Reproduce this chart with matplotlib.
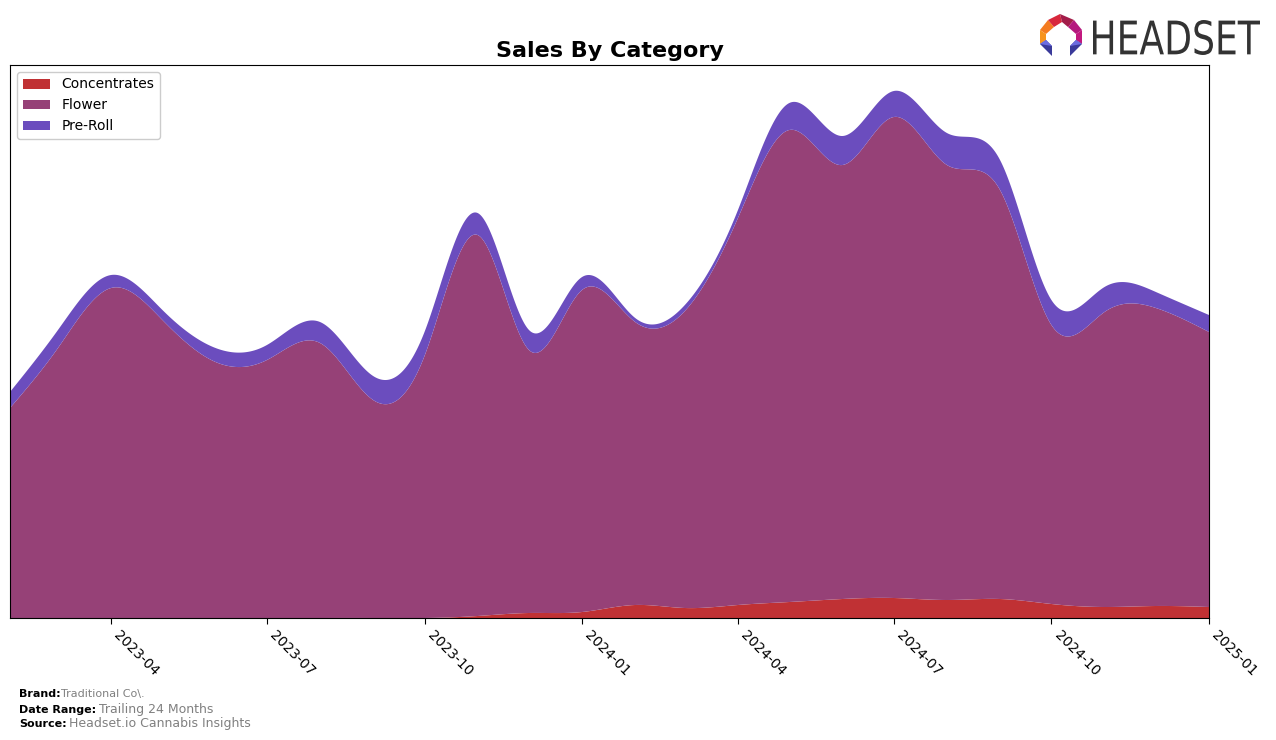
import numpy as np
import pandas as pd
import matplotlib
matplotlib.use("Agg")
import matplotlib.pyplot as plt
import matplotlib.dates as mdates
from matplotlib.patches import Polygon, PathPatch
from matplotlib.textpath import TextPath
from matplotlib.font_manager import FontProperties
from matplotlib.transforms import Affine2D

months = pd.date_range("2023-02-01", "2025-01-01", freq="MS")
concentrates = [0, 0, 0, 0, 0, 0, 0, 0, 0, 2, 5, 6, 13, 10, 13, 16, 19, 20, 18, 19, 14, 11, 12, 11]
flower_top = [210, 270, 330, 298, 256, 258, 275, 218, 262, 383, 268, 328, 296, 307, 400, 488, 453, 501, 453, 428, 293, 306, 310, 286]
flower = [f - c for f, c in zip(flower_top, concentrates)]
pre_roll = [16, 18, 13, 10, 14, 15, 21, 24, 24, 22, 20, 13, 4, 6, 8, 27, 29, 26, 32, 30, 25, 25, 16, 17]

labels = ["Concentrates", "Flower", "Pre-Roll"]
colors = ["#C03134", "#964177", "#6B4DBE"]


def natural_spline(x, y, xs):
    x = np.asarray(x, float); y = np.asarray(y, float)
    n = len(x)
    h = np.diff(x)
    A = np.zeros((n, n)); b = np.zeros(n)
    A[0, 0] = 1; A[-1, -1] = 1
    for i in range(1, n - 1):
        A[i, i - 1] = h[i - 1]
        A[i, i] = 2 * (h[i - 1] + h[i])
        A[i, i + 1] = h[i]
        b[i] = 6 * ((y[i + 1] - y[i]) / h[i] - (y[i] - y[i - 1]) / h[i - 1])
    M = np.linalg.solve(A, b)
    idx = np.clip(np.searchsorted(x, xs) - 1, 0, n - 2)
    x0 = x[idx]; x1 = x[idx + 1]; hh = x1 - x0
    t0 = x1 - xs; t1 = xs - x0
    return (M[idx] * t0**3 / (6 * hh) + M[idx + 1] * t1**3 / (6 * hh)
            + (y[idx] / hh - M[idx] * hh / 6) * t0
            + (y[idx + 1] / hh - M[idx + 1] * hh / 6) * t1)


xnum = mdates.date2num(months)
xs = np.linspace(xnum[0], xnum[-1], 1500)
series = [np.clip(natural_spline(xnum, s, xs), 0, None) for s in (concentrates, flower, pre_roll)]

fig = plt.figure(figsize=(12.76, 7.40), dpi=100)
ax = fig.add_axes([10 / 1276, 1 - 618 / 740, 1199 / 1276, 553 / 740])
ax.stackplot(mdates.num2date(xs), *series, labels=labels, colors=colors)
ax.set_xlim(xnum[0], xnum[-1])
ax.set_ylim(0, 553)
ax.set_yticks([])
ticks = pd.date_range("2023-04-01", "2025-01-01", freq="QS")
ax.set_xticks(mdates.date2num(ticks))
ax.set_xticklabels([t.strftime("%Y-%m") for t in ticks], rotation=-45, ha="left", fontsize=10)
ax.tick_params(axis="x", length=4)
ax.legend(loc="upper left", fontsize=10, framealpha=1)
ax.set_title("Sales By Category", fontsize=16, fontweight="bold", pad=6)

# footer
fig.text(19 / 1276, 1 - 694 / 740, "Brand:", fontsize=8, fontweight="bold", va="center")
fig.text(61 / 1276, 1 - 694 / 740, "Traditional Co\\.", fontsize=8, color="gray", va="center")
fig.text(19 / 1276, 1 - 710 / 740, "Date Range:", fontsize=8, fontweight="bold", va="center")
fig.text(99 / 1276, 1 - 710 / 740, "Trailing 24 Months", fontsize=9, color="gray", va="center")
fig.text(19 / 1276, 1 - 724 / 740, "Source:", fontsize=8, fontweight="bold", va="center")
fig.text(69 / 1276, 1 - 724 / 740, "Headset.io Cannabis Insights", fontsize=9, color="gray", va="center")

# logo icon
lax = fig.add_axes([1036 / 1276, 1 - 60 / 740, 50 / 1276, 48 / 740])
lax.set_xlim(0, 50); lax.set_ylim(0, 48)
lax.axis("off")
polys = [
    ([(4, 30), (12, 40), (18, 33), (10, 26)], "#F47B20"),
    ([(12, 40), (24, 46), (26, 38), (18, 33)], "#D8283C"),
    ([(24, 46), (38, 40), (32, 33), (26, 38)], "#A31D4A"),
    ([(38, 40), (46, 30), (40, 26), (32, 33)], "#B5187E"),
    ([(4, 30), (4, 16), (10, 20), (10, 26)], "#F7941D"),
    ([(46, 30), (46, 16), (40, 20), (40, 26)], "#C2187F"),
    ([(4, 16), (16, 4), (16, 14), (10, 20)], "#3A3A9A"),
    ([(46, 16), (34, 4), (34, 14), (40, 20)], "#3A3A9A"),
    ([(4, 16), (10, 20), (16, 14)], "#6C6CE0"),
    ([(46, 16), (40, 20), (34, 14)], "#6C6CE0"),
]
for pts, c in polys:
    lax.add_patch(Polygon(pts, closed=True, color=c, lw=0))

# logo wordmark, scaled into its box
tp = TextPath((0, 0), "HEADSET", size=40, prop=FontProperties(family="DejaVu Sans"))
ext = tp.get_extents()
x0, x1 = 1093 / 1276, 1260 / 1276
y0, y1 = 1 - 55 / 740, 1 - 20 / 740
tr = (Affine2D().translate(-ext.x0, -ext.y0)
      .scale((x1 - x0) / ext.width, (y1 - y0) / ext.height)
      .translate(x0, y0))
fig.add_artist(PathPatch(tr.transform_path(tp), color="#333333", lw=0, transform=fig.transFigure))

fig.savefig("out.png", dpi=100)
